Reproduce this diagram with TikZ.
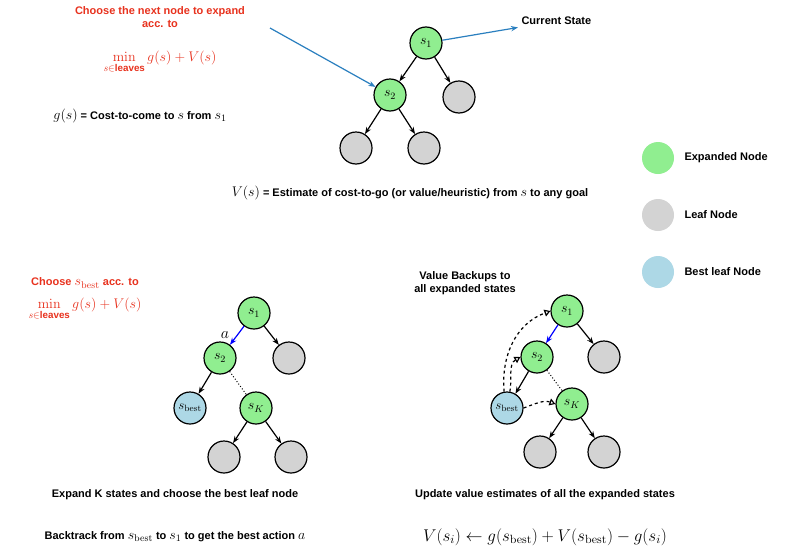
\RequirePackage{fix-cm}
\documentclass[tikz,border=0pt]{standalone}
\usepackage{amsmath}
\usepackage[no-math]{fontspec}
\setmainfont{Liberation Sans}
\usetikzlibrary{arrows.meta}
\definecolor{gfill}{HTML}{90EE90}
\definecolor{lfill}{HTML}{D3D3D3}
\definecolor{bfill}{HTML}{ADD8E6}
\definecolor{redt}{HTML}{E8321E}
\definecolor{bluea}{HTML}{2A7FBF}
\begin{document}
\begin{tikzpicture}[x=1pt,y=-1pt,
  st/.style={circle,draw,line width=1.2pt,minimum size=32pt,inner sep=0pt,font=\fontsize{14}{14}\selectfont},
  ex/.style={st,fill=gfill},
  lf/.style={st,fill=lfill},
  bs/.style={st,fill=bfill},
  ed/.style={-{Stealth[length=7pt]},line width=1.2pt},
  txt/.style={font=\fontsize{11}{13}\selectfont\bfseries,align=center},
  mth/.style={font=\fontsize{14}{14}\selectfont},
  bk/.style={-{Triangle[open,length=6pt]},line width=1.2pt,dashed}]
\fill[white] (0,0) rectangle (800,557);
% top tree
\node[ex] (a1) at (426,43) {$s_1$};
\node[ex] (a2) at (390,95) {$s_2$};
\node[lf] (a3) at (459,97) {};
\node[lf] (a4) at (356,148) {};
\node[lf] (a5) at (424,148) {};
\draw[ed] (a1)--(a2); \draw[ed] (a1)--(a3); \draw[ed] (a2)--(a4); \draw[ed] (a2)--(a5);
\node[txt,text=redt] (t1) at (160,17) {Choose the next node to expand\\acc. to};
\node[text=redt,mth] (t2) at (160,62) {$\displaystyle\min_{s\in\text{\bfseries leaves}} g(s)+V(s)$};
\coordinate (bl) at (270,28);
\draw[bluea,line width=1.2pt,-{Stealth[length=7pt]}] (bl)--(a2);
\node[txt,anchor=west] (cs) at (518,21) {Current State};
\draw[bluea,line width=1.2pt,-{Stealth[length=7pt]}] (a1)--(cs);
\node[txt] (gs) at (140,116) {{\fontsize{14}{14}\selectfont$g(s)$} = Cost-to-come to {\fontsize{14}{14}\selectfont$s$} from {\fontsize{14}{14}\selectfont$s_1$}};
\node[txt] (vs) at (410,193) {{\fontsize{14}{14}\selectfont$V(s)$} = Estimate of cost-to-go (or value/heuristic) from {\fontsize{14}{14}\selectfont$s$} to any goal};
% legend
\node[ex,draw=none] (l1) at (658,158) {};
\node[lf,draw=none] (l2) at (658,215) {};
\node[bs,draw=none] (l3) at (658,272) {};
\node[txt,anchor=west] at (681,158) {Expanded Node};
\node[txt,anchor=west] at (681,215) {Leaf Node};
\node[txt,anchor=west] at (681,272) {Best leaf Node};
% bottom-left
\node[txt,text=redt] (c1) at (85,283) {Choose {\fontsize{14}{14}\selectfont$s_{\mathrm{best}}$} acc. to};
\node[text=redt,mth] (c2) at (85,309) {$\displaystyle\min_{s\in\text{\bfseries leaves}} g(s)+V(s)$};
\node[ex] (b1) at (254,313) {$s_1$};
\node[ex] (b2) at (220,358) {$s_2$};
\node[lf] (b3) at (289,358) {};
\node[bs,font=\fontsize{13}{13}\selectfont] (b4) at (190,408) {$s_{\mathrm{best}}$};
\node[ex] (b5) at (256,408) {$s_K$};
\node[lf] (b6) at (224,457) {};
\node[lf] (b7) at (291,457) {};
\draw[ed,blue] (b1)--(b2) node[midway,left=4pt,black,font=\fontsize{16}{16}\selectfont] {$a$};
\draw[ed] (b1)--(b3); \draw[ed] (b2)--(b4); \draw[line width=1pt,dotted] (b2)--(b5);
\draw[ed] (b5)--(b6); \draw[ed] (b5)--(b7);
% bottom-right
\node[txt] (vb) at (465,283) {Value Backups to\\all expanded states};
\node[ex] (r1) at (567,311) {$s_1$};
\node[ex] (r2) at (537,357) {$s_2$};
\node[lf] (r3) at (604,357) {};
\node[bs,font=\fontsize{13}{13}\selectfont] (r4) at (507,408) {$s_{\mathrm{best}}$};
\node[ex] (r5) at (572,404) {$s_K$};
\node[lf] (r6) at (540,452) {};
\node[lf] (r7) at (604,452) {};
\draw[ed,blue] (r1)--(r2); \draw[ed] (r1)--(r3); \draw[ed] (r2)--(r4); \draw[line width=1pt,dotted] (r2)--(r5);
\draw[ed] (r5)--(r6); \draw[ed] (r5)--(r7);
\draw[bk] (r4.100) to[out=95,in=200] (r1.west);
\draw[bk] (r4.80) to[out=80,in=210] (r2.west);
\draw[bk] (r4.east) to[out=20,in=160] (r5.west);
% bottom texts
\node[txt] at (175,495) {Expand K states and choose the best leaf node};
\node[txt] at (545,495) {Update value estimates of all the expanded states};
\node[txt] at (175,537) {Backtrack from {\fontsize{14}{14}\selectfont$s_{\mathrm{best}}$} to {\fontsize{14}{14}\selectfont$s_1$} to get the best action {\fontsize{14}{14}\selectfont$a$}};
\node[font=\fontsize{17}{17}\selectfont] at (545,537) {$V(s_i)\leftarrow g(s_{\mathrm{best}})+V(s_{\mathrm{best}})-g(s_i)$};
\end{tikzpicture}
\end{document}
